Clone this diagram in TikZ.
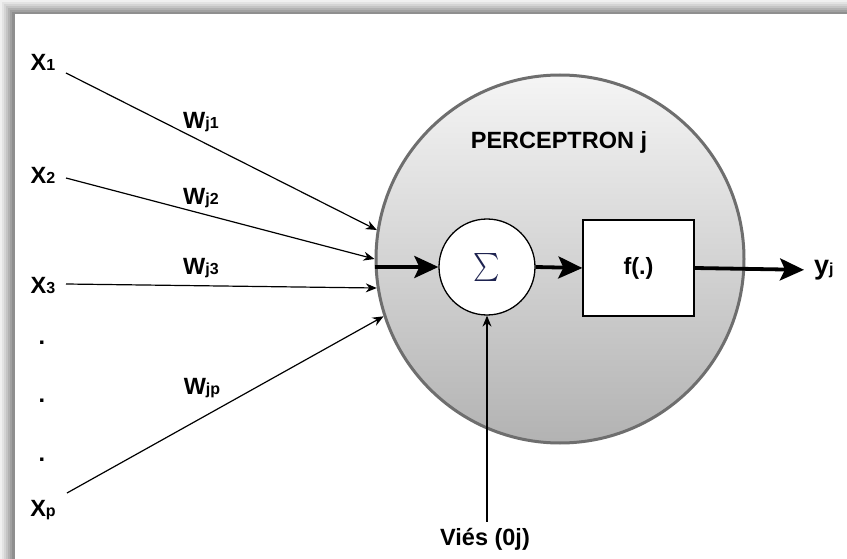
\documentclass[tikz,border=0pt]{standalone}
\usepackage{fontspec}
\setmainfont{Liberation Sans}
\usetikzlibrary{arrows.meta}
\newcommand{\bigtxt}{\bfseries\fontsize{23.5}{23.5}\selectfont}
\newcommand{\smallsub}[1]{{\fontsize{16}{16}\selectfont #1}}
\definecolor{rimgray}{RGB}{110,110,110}
\definecolor{sigmacol}{RGB}{30,35,80}
\begin{document}
\begin{tikzpicture}[x=1pt,y=-1pt,
  lbl/.style={font=\bigtxt, inner sep=0pt},
  thinarrow/.style={line width=1.2pt, -{Stealth[length=11pt,width=9pt]}},
  thickarrow/.style={line width=3.8pt, -{Stealth[length=24pt,width=22pt,inset=5pt]}},
]
\useasboundingbox (0,0) rectangle (847,559);
% frame shadow
\foreach \k/\c in {0/6,2/11,4/17,6/23,8/30,10/37,12/44} { \fill[black!\c] (\k,\k) rectangle (847,559); }
\fill[white] (15,14) rectangle (847,559);

% perceptron body
\node[circle, minimum size=368pt, inner sep=0pt, draw=rimgray, line width=3pt,
      top color=black!4, bottom color=black!30] (perc) at (560,259) {};
\node[lbl] (title) at (559,142) {PERCEPTRON j};

\node[circle, draw, fill=white, line width=1.3pt, minimum size=96pt, inner sep=0pt] (sum) at (487,267)
  {\color{sigmacol}\scalebox{2.5}[2.8]{$\sum$}};
\node[draw, fill=white, line width=1.3pt, minimum width=111pt, minimum height=96pt, inner sep=0pt] (fbox) at (638.5,268)
  {\bigtxt f(.)};
\node[lbl, anchor=west] (out) at (814,270) {\fontsize{27}{27}\selectfont y\smallsub{j}};

\coordinate (in) at (perc.west |- sum.west);
\draw[thickarrow] (in) -- (sum.west);
\draw[thickarrow] (sum.east) -- (fbox.west);
\draw[thickarrow, shorten >=10pt] (fbox.east) -- (out.west);

% inputs
\node[lbl] (x1) at (43,62) {X\smallsub{1}};
\node[lbl] (x2) at (43,175) {X\smallsub{2}};
\node[lbl] (x3) at (43,286) {X\smallsub{3}};
\node[lbl] (d1) at (42,343) {.};
\node[lbl] (d2) at (42,401) {.};
\node[lbl] (d3) at (42,460) {.};
\node[lbl] (xp) at (43,510) {X\smallsub{p}};

\coordinate (s1) at (66,73);
\coordinate (s2) at (66,178);
\coordinate (s3) at (66,284);
\coordinate (sp) at (67,493);

\draw[thinarrow] (s1) -- (perc.171.3);
\draw[thinarrow] (s2) -- (perc.180);
\draw[thinarrow] (s3) -- (perc.189.4);
\draw[thinarrow] (sp) -- (perc.198.4);

\node[lbl] (w1) at (201,122) {W\smallsub{j1}};
\node[lbl] (w2) at (201,198) {W\smallsub{j2}};
\node[lbl] (w3) at (201,268) {W\smallsub{j3}};
\node[lbl] (wp) at (202,388) {W\smallsub{jp}};

% bias
\node[lbl] (vies) at (485,539) {Viés (0j)};
\draw[thinarrow] ([yshift=6pt]vies.north -| sum.south) -- (sum.south);
\end{tikzpicture}
\end{document}
